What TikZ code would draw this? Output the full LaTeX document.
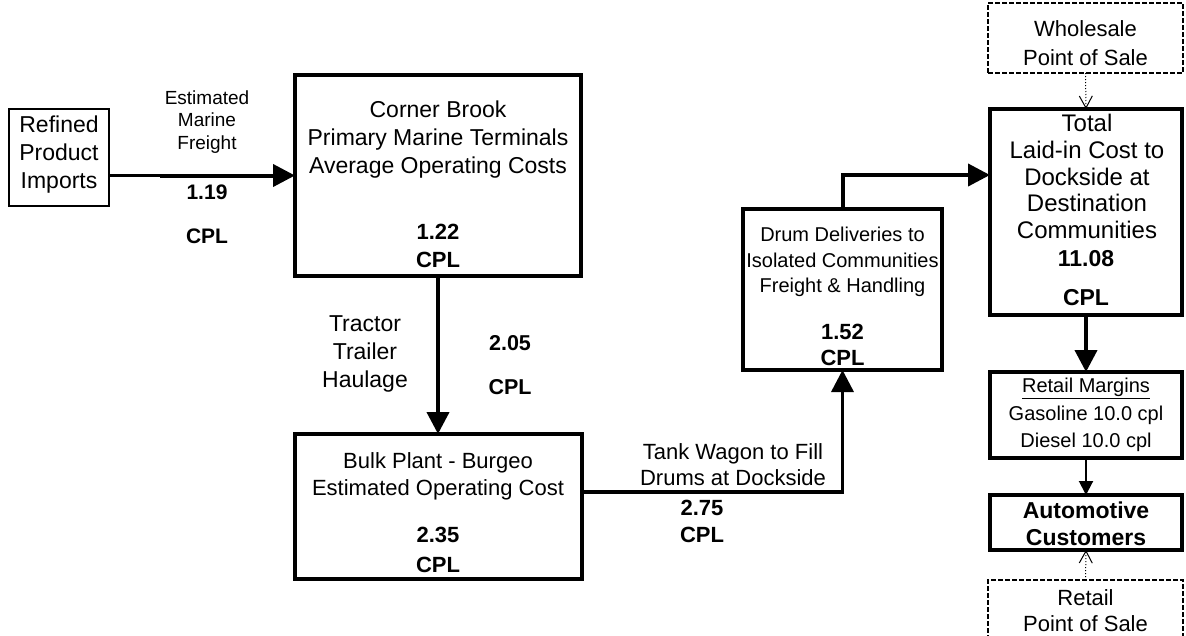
\documentclass[tikz,border=0pt]{standalone}
\usepackage{fontspec}
\setmainfont{Liberation Sans}
\usetikzlibrary{arrows.meta,calc}
\newcommand\fsz[2]{\fontsize{#1}{#2}\selectfont}
\tikzset{
  box/.style={draw, line width=4pt, inner sep=0pt, outer sep=0pt},
  dbox/.style={draw, line width=1.2pt, dash pattern=on 5pt off 2pt, inner sep=0pt, outer sep=0pt},
  lbl/.style={align=center, inner sep=0pt},
  bigarr/.style={line width=4pt, -{Triangle[length=22pt,width=22pt]}},
  smallarr/.style={line width=2pt, -{Triangle[length=14pt,width=14pt]}},
  dotarr/.style={dotted, line width=1pt, -{Straight Barb[length=12pt,width=13pt]}},
}
\begin{document}
\begin{tikzpicture}[x=1pt,y=-1pt]
\useasboundingbox (0,0) rectangle (1186,635);
\clip (0,0) rectangle (1186,635);

% boxes
\node[box, line width=2pt, minimum width=100pt, minimum height=97pt] (imp) at (59,157.5) {};
\node[box, minimum width=286pt, minimum height=201pt] (cb) at (438,175.5) {};
\node[box, minimum width=287pt, minimum height=145pt] (bulk) at (438,506.5) {};
\node[box, line width=3.5pt, minimum width=199pt, minimum height=161pt] (drum) at (842.5,289.5) {};
\node[box, minimum width=192pt, minimum height=206pt] (total) at (1086,212) {};
\node[dbox, minimum width=195pt, minimum height=70pt] (whole) at (1085.5,38) {};
\node[box, minimum width=192pt, minimum height=86pt] (rm) at (1086,415) {};
\node[box, minimum width=192pt, minimum height=55pt] (auto) at (1086,522.5) {};
\node[dbox, minimum width=195pt, minimum height=80pt] (retail) at (1085.5,620) {};

% texts
\node[lbl, font=\fsz{23}{28}] (impt) at (59,155) {Refined\\Product\\Imports};
\node[lbl, font=\fsz{19}{22.5}] (emf) at (207,122) {Estimated\\Marine\\Freight};
\node[lbl, font=\bfseries\fsz{21}{24}] (emfv) at (207,192) {1.19};
\node[lbl, font=\bfseries\fsz{21}{24}] (emfc) at (207,236) {CPL};

\node[lbl, font=\fsz{23}{28}] (cbt) at (438,140) {Corner Brook\\Primary Marine Terminals\\Average Operating Costs};
\node[lbl, font=\bfseries\fsz{22}{28}] (cbv) at (438,246) {1.22\\CPL};

\node[lbl, font=\fsz{23}{28}] (tth) at (365,354) {Tractor\\Trailer\\Haulage};
\node[lbl, font=\bfseries\fsz{21.5}{24}] (ttv) at (510,343) {2.05};
\node[lbl, font=\bfseries\fsz{21.5}{24}] (ttc) at (510,387) {CPL};

\node[lbl, font=\fsz{22}{27}] (bulkt) at (438,476.5) {Bulk Plant - Burgeo\\Estimated Operating Cost};
\node[lbl, font=\bfseries\fsz{22}{30}] (bulkv) at (438,550) {2.35\\CPL};

\node[lbl, font=\fsz{22}{26}] (twt) at (733,465) {Tank Wagon to Fill\\Drums at Dockside};
\node[lbl, font=\bfseries\fsz{22}{27}] (twv) at (702,521.5) {2.75\\CPL};

\node[lbl, font=\fsz{20}{25.5}] (drumt) at (842.5,262) {Drum Deliveries to\\Isolated Communities\\Freight \& Handling};
\node[lbl, font=\bfseries\fsz{22}{26}] (drumv) at (842.5,345) {1.52\\CPL};

\node[lbl, font=\fsz{22}{29}] (wholet) at (1085.5,43) {Wholesale\\Point of Sale};
\node[lbl, font=\fsz{24}{26.7}] (totalt) at (1087,176.5) {Total\\Laid-in Cost to\\Dockside at\\Destination\\Communities};
\node[lbl, font=\bfseries\fsz{23}{26}] (totalv) at (1086,259) {11.08};
\node[lbl, font=\bfseries\fsz{23}{26}] (totalc) at (1086,298) {CPL};

\node[lbl, font=\fsz{20}{27.5}] (rmt) at (1086,415) {\underline{Retail Margins}\\Gasoline 10.0 cpl\\Diesel 10.0 cpl};
\node[lbl, font=\bfseries\fsz{23}{27}] (autot) at (1086,523.5) {Automotive\\Customers};
\node[lbl, font=\fsz{22}{26}] (retailt) at (1085.5,611) {Retail\\Point of Sale};

% connectors
\coordinate (m1) at (160,175.5);
\draw[line width=2.5pt] (imp.east |- cb.west) -- (m1);
\draw[bigarr] (m1) -- (cb.west);
\draw[bigarr] (cb.south) -- (bulk.north);
\draw[bigarr, line width=3.5pt] ([yshift=14.5pt]bulk.east) -| (drum.south);
\draw[bigarr] (drum.north) |- ([yshift=37pt]total.west);
\draw[dotarr] (whole.south) -- (total.north);
\draw[bigarr] (total.south) -- (rm.north);
\draw[smallarr] (rm.south) -- (auto.north);
\draw[dotarr] (retail.north) -- (auto.south);
\end{tikzpicture}
\end{document}
